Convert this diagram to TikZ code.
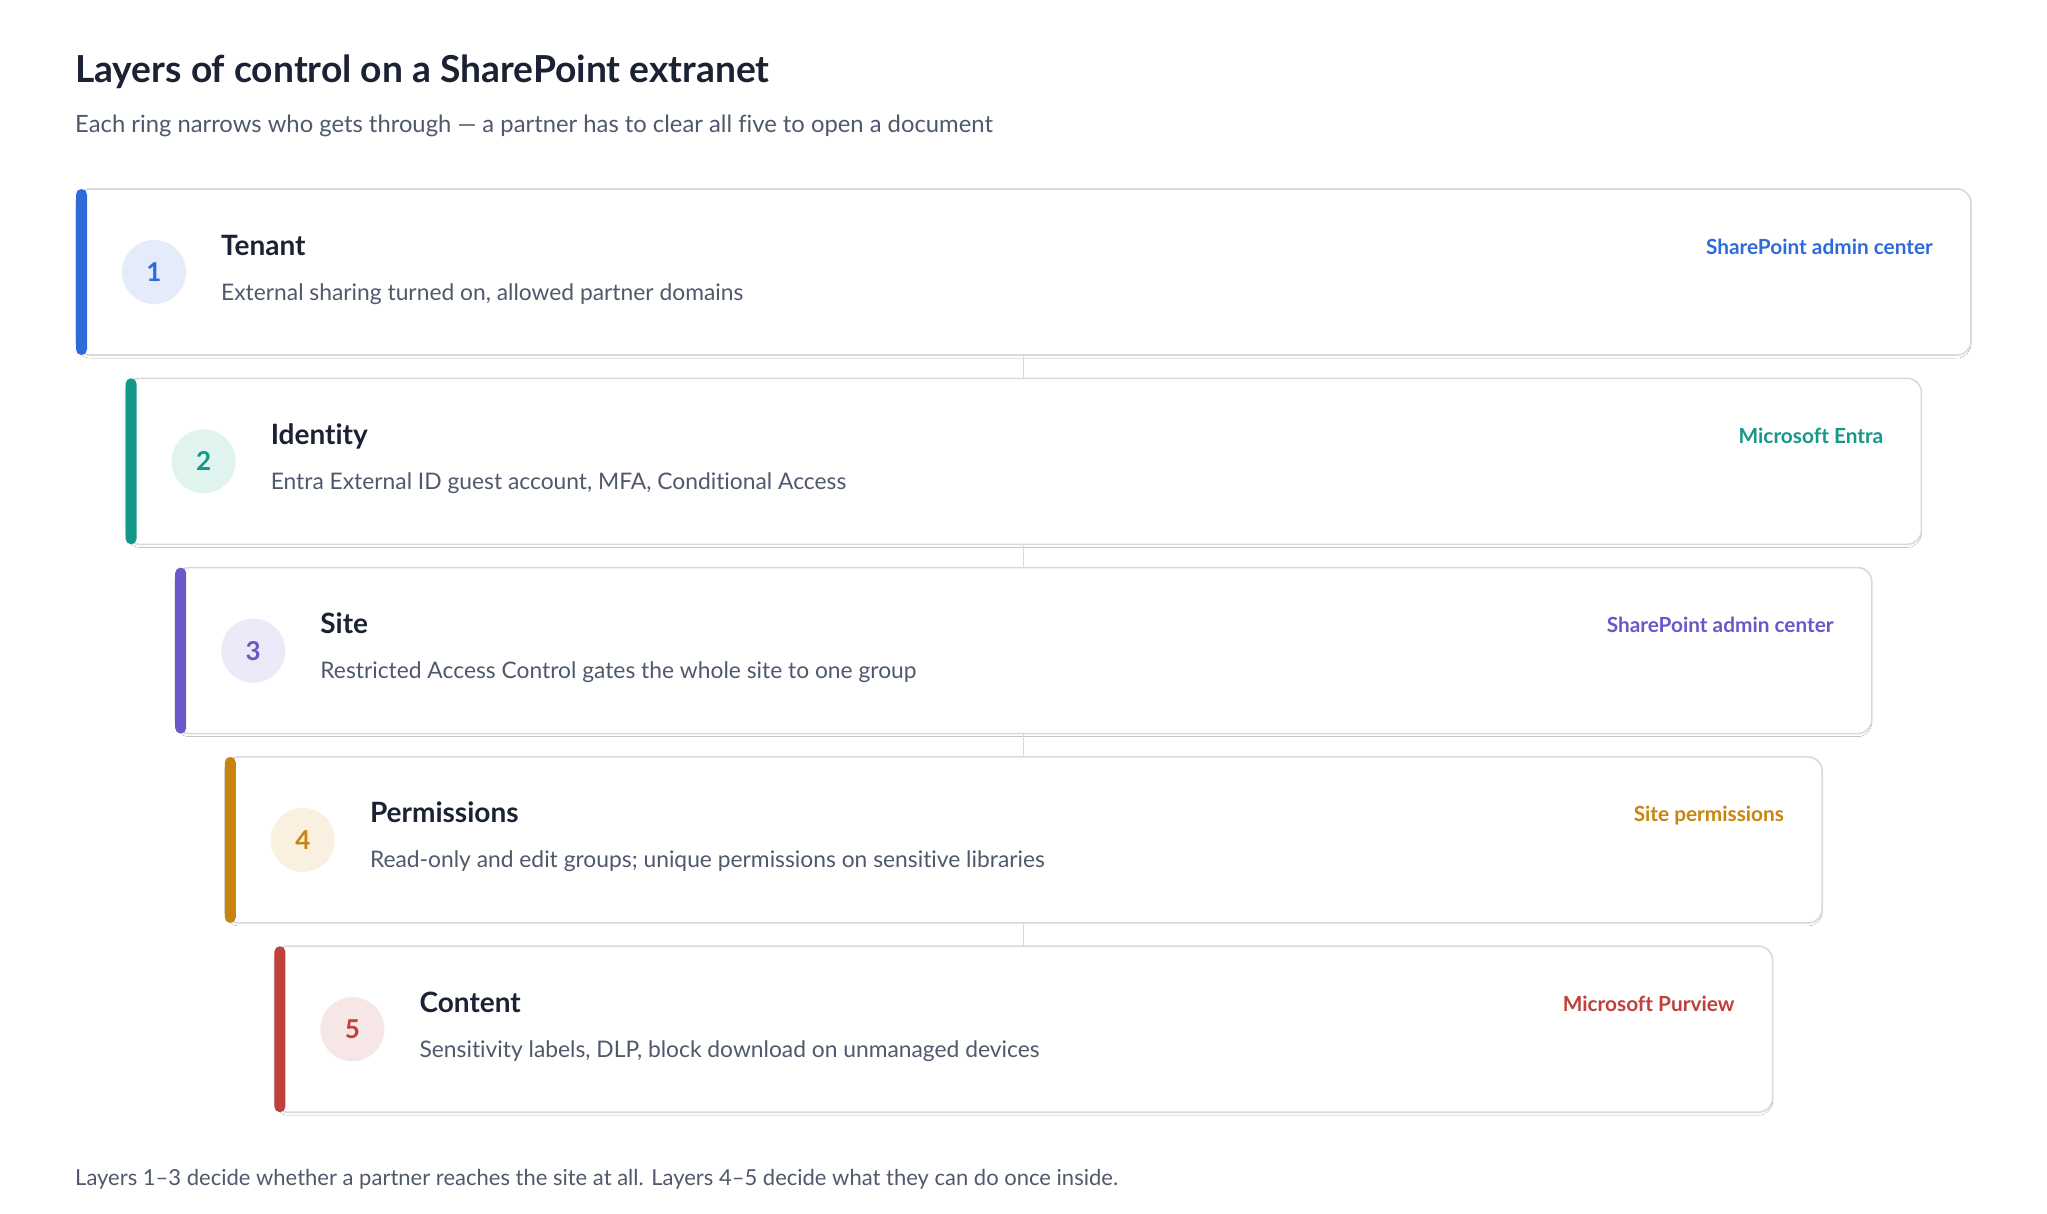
\documentclass[tikz,border=0pt]{standalone}
\usepackage{fontspec}
\setmainfont{Lato}[Ligatures={NoCommon}]
\definecolor{ink}{HTML}{1A2233}
\definecolor{muted}{HTML}{4F596C}
\definecolor{edge}{HTML}{D5DAE3}
\definecolor{shade}{HTML}{E9ECF1}
\definecolor{cblue}{HTML}{2D6BDB}\definecolor{lblue}{HTML}{E4ECFB}
\definecolor{cteal}{HTML}{14988A}\definecolor{lteal}{HTML}{E0F3EF}
\definecolor{cpurp}{HTML}{6A57C8}\definecolor{lpurp}{HTML}{ECE9F8}
\definecolor{corng}{HTML}{C98410}\definecolor{lorng}{HTML}{FAF0DF}
\definecolor{cred}{HTML}{C0403C}\definecolor{lred}{HTML}{F7E6E6}
\tikzset{
  card/.style={draw=edge, line width=1.6pt, fill=white, rounded corners=14pt, inner sep=0pt, outer sep=0pt, anchor=north west},
  conn/.style={draw=edge, line width=1.6pt},
  numdisc/.style={circle, inner sep=0pt, minimum size=64pt, font=\bfseries\fontsize{26}{26}\selectfont},
  ltitle/.style={anchor=base west, inner sep=0pt, text=ink, font=\bfseries\fontsize{28}{32}\selectfont},
  ldesc/.style={anchor=base west, inner sep=0pt, text=muted, font=\fontsize{22.8}{26}\selectfont},
  ltool/.style={anchor=base east, inner sep=0pt, font=\bfseries\fontsize{20.8}{24}\selectfont},
}
\newcommand\layerrow[7]{%
  \pgfmathsetmacro\Lx{76+49.6*(#1-1)}%
  \pgfmathsetmacro\Rx{1971-49.6*(#1-1)}%
  \pgfmathsetmacro\Ty{189+189.3*(#1-1)}%
  \pgfmathsetmacro\Wd{\Rx-\Lx}%
  \fill[shade, rounded corners=14pt] (\Lx,\Ty+3) rectangle (\Rx,\Ty+169);
  \node[card, minimum width=\Wd pt, minimum height=166pt] (card#1) at (\Lx,\Ty) {};
  \fill[#2, rounded corners=5.5pt] (\Lx,\Ty) rectangle (\Lx+11,\Ty+166);
  \node[numdisc, fill=#3, text=#2] (num#1) at (\Lx+78,\Ty+83) {#1};
  \node[ltitle] (title#1) at (\Lx+145,\Ty+66) {#4};
  \node[ldesc] (desc#1) at (\Lx+145,\Ty+111) {#5};
  \node[ltool, text=#2] (tool#1) at (\Rx-38,\Ty+65) {#6};
}
\begin{document}
\begin{tikzpicture}[x=1pt,y=-1pt]
\useasboundingbox[fill=white] (0,0) rectangle (2047,1213);
\node[anchor=base west, inner sep=0pt, text=ink, font=\bfseries\fontsize{37.2}{42}\selectfont] (head) at (75,82.5) {Layers of control on a SharePoint extranet};
\node[anchor=base west, inner sep=0pt, text=muted, font=\fontsize{23.8}{28}\selectfont] (sub) at (75,132) {Each ring narrows who gets through — a partner has to clear all five to open a document};
\layerrow{1}{cblue}{lblue}{Tenant}{External sharing turned on, allowed partner domains}{SharePoint admin center}{}
\layerrow{2}{cteal}{lteal}{Identity}{Entra External ID guest account, MFA, Conditional Access}{Microsoft Entra}{}
\layerrow{3}{cpurp}{lpurp}{Site}{Restricted Access Control gates the whole site to one group}{SharePoint admin center}{}
\layerrow{4}{corng}{lorng}{Permissions}{Read-only and edit groups; unique permissions on sensitive libraries}{Site permissions}{}
\layerrow{5}{cred}{lred}{Content}{Sensitivity labels, DLP, block download on unmanaged devices}{Microsoft Purview}{}
\draw[conn] (card1.south) -- (card2.north);
\draw[conn] (card2.south) -- (card3.north);
\draw[conn] (card3.south) -- (card4.north);
\draw[conn] (card4.south) -- (card5.north);
\node[anchor=base west, inner sep=0pt, text=muted, font=\fontsize{22}{26}\selectfont] (foot) at (75,1185) {Layers 1–3 decide whether a partner reaches the site at all. Layers 4–5 decide what they can do once inside.};
\end{tikzpicture}
\end{document}
